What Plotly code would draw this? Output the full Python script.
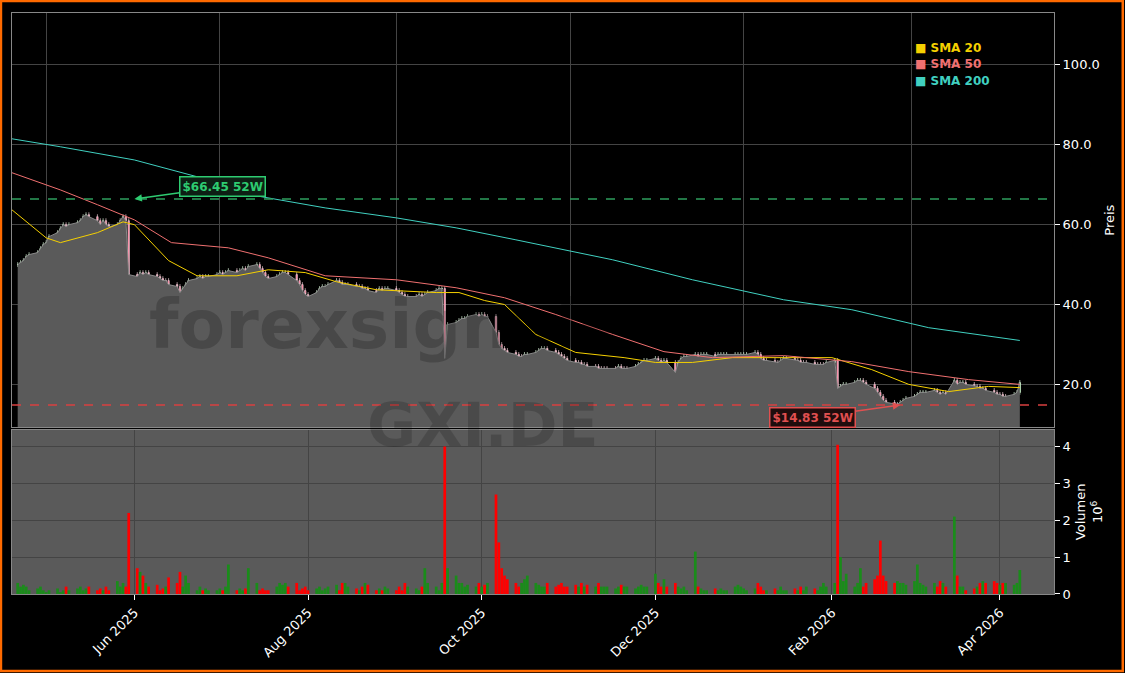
import numpy as np
import pandas as pd
import plotly.graph_objects as go
from plotly.subplots import make_subplots

close_weeks = [
    [50, 50.5, 51, 52],
    [52.5, 53, 54, 55, 55.5],
    [57, 58, 59, 60, 59.5],
    [60, 60.5, 61, 62, 62.5],
    [62, 61, 60, 61, 60],
    [59.5, 60, 61, 62, 61],
    [47.5, 47, 48, 47.5, 48],
    [47.5, 47, 46.5, 46, 46],
    [45, 44.5, 43, 44, 45],
    [46, 46.5, 47, 46.5, 47],
    [47, 47.5, 48, 47.5, 48],
    [48.5, 48, 48.5, 49, 48.5],
    [49.5, 50, 49, 48, 47],
    [46.5, 47, 47.5, 48, 48],
    [47.5, 46, 45, 43.5, 42.5],
    [42, 43, 44, 44.5, 44.5],
    [45, 46, 45.5, 45, 45],
    [45, 44.5, 44.5, 44, 44],
    [43.5, 43, 44, 43.5, 44],
    [44, 43.5, 43, 42.5, 42],
    [42, 42, 42.5, 42, 42.5],
    [43, 43.5, 44, 44, 26.5],
    [35, 35.5, 36, 36.5, 36.5],
    [37, 37.5, 37, 37.5, 37],
    [37, 33, 30, 29, 28.5],
    [28, 27.5, 27, 27, 27.5],
    [27.5, 28, 28.5, 29, 29],
    [28.5, 28, 27.5, 27, 26.5],
    [26, 25.5, 25.5, 25, 25],
    [24.5, 24.5, 24, 24, 24],
    [24, 24, 24.5, 24, 24],
    [24, 24.5, 25, 25.5, 26],
    [26, 26.5, 26, 25.5, 26],
    [25.5, 23, 25.5, 26.5, 27],
    [27, 27.5, 27, 27.5, 27.5],
    [27.5, 27, 27.5, 27.5, 27.5],
    [27.5, 27.5, 27.5, 27.5, 27.5],
    [27.5, 28, 27.5, 26.5, 26],
    [26, 25.5, 25.5, 26, 26.5],
    [26.5, 26, 26, 25.5, 25.5],
    [25.5, 25, 25, 25, 25],
    [25.5, 26, 19, 19.5, 20],
    [20, 20.5, 21, 21, 20.5],
    [20, 19, 18, 17, 16],
    [15.5, 15, 15, 15.5, 16],
    [16.5, 17, 17.5, 18, 18],
    [18, 18.5, 18, 17.5, 18],
    [17.5, 21, 20, 20.5, 20.5],
    [20, 19.5, 19.5, 19, 19],
    [18.5, 18, 17.5, 17.5, 17],
    [17, 17.5, 18, 20.5],
]

# Volumen in Mio. Stück
volume_weeks = [
    [0.3, 0.2, 0.25, 0.2],
    [0.1, 0.15, 0.2, 0.1, 0.05],
    [0.1, 0.15, 0.05, 0.1, 0.2],
    [0.1, 0.15, 0.2, 0.1, 0.15],
    [0.2, 0.1, 0.15, 0.1, 0.2],
    [0.1, 0.35, 0.2, 0.3, 0.2],
    [2.2, 0.7, 0.6, 0.5, 0.3],
    [0.2, 0.25, 0.1, 0.15, 0.2],
    [0.45, 0.3, 0.6, 0.2, 0.5],
    [0.3, 0.1, 0.2, 0.1, 0.15],
    [0.1, 0.1, 0.15, 0.1, 0.2],
    [0.8, 0.1, 0.15, 0.1, 0.15],
    [0.7, 0.3, 0.1, 0.15, 0.1],
    [0.1, 0.2, 0.3, 0.25, 0.3],
    [0.2, 0.3, 0.1, 0.15, 0.2],
    [0.1, 0.15, 0.2, 0.1, 0.15],
    [0.2, 0.25, 0.1, 0.3, 0.3],
    [0.2, 0.15, 0.1, 0.2, 0.3],
    [0.25, 0.1, 0.15, 0.1, 0.2],
    [0.15, 0.1, 0.2, 0.1, 0.3],
    [0.2, 0.15, 0.1, 0.2, 0.7],
    [0.3, 0.2, 0.1, 0.3, 4.0],
    [0.7, 0.5, 0.3, 0.3, 0.2],
    [0.25, 0.2, 0.3, 0.2, 0.25],
    [0.3, 2.7, 1.4, 0.7, 0.5],
    [0.4, 0.3, 0.2, 0.3, 0.4],
    [0.5, 0.3, 0.25, 0.2, 0.2],
    [0.3, 0.2, 0.25, 0.3, 0.2],
    [0.2, 0.25, 0.2, 0.3, 0.2],
    [0.25, 0.2, 0.3, 0.2, 0.2],
    [0.2, 0.15, 0.2, 0.25, 0.2],
    [0.2, 0.15, 0.2, 0.25, 0.2],
    [0.2, 0.55, 0.3, 0.2, 0.4],
    [0.2, 0.3, 0.2, 0.15, 0.2],
    [0.1, 1.15, 0.2, 0.15, 0.1],
    [0.1, 0.15, 0.1, 0.15, 0.1],
    [0.1, 0.2, 0.25, 0.2, 0.15],
    [0.1, 0.15, 0.3, 0.2, 0.1],
    [0.1, 0.15, 0.1, 0.2, 0.1],
    [0.1, 0.15, 0.1, 0.2, 0.1],
    [0.2, 0.15, 0.1, 0.2, 0.3],
    [0.2, 0.3, 4.05, 1.0, 0.35],
    [0.55, 0.2, 0.3, 0.7, 0.2],
    [0.3, 0.4, 0.5, 1.45, 0.5],
    [0.35, 0.3, 0.35, 0.3, 0.3],
    [0.25, 0.35, 0.8, 0.3, 0.25],
    [0.2, 0.3, 0.2, 0.35, 0.3],
    [0.2, 2.1, 0.5, 0.2, 0.2],
    [0.1, 0.15, 0.2, 0.3, 0.35],
    [0.3, 0.35, 0.3, 0.25, 0.3],
    [0.3, 0.25, 0.3, 0.65],
]

sma20_dates = ["2025-04-19", "2025-05-01", "2025-05-06", "2025-05-19", "2025-05-28", "2025-06-01",
               "2025-06-13", "2025-06-23", "2025-07-07", "2025-07-18", "2025-07-31", "2025-08-11",
               "2025-08-25", "2025-09-15", "2025-09-23", "2025-10-02", "2025-10-09", "2025-10-20",
               "2025-11-03", "2025-11-20", "2025-12-01", "2025-12-14", "2025-12-28", "2026-01-15",
               "2026-02-01", "2026-02-15", "2026-02-28", "2026-03-14", "2026-03-28", "2026-04-08"]
sma20_vals = [63.7, 56.7, 55.5, 58, 60.7, 60, 51, 47.2, 47.2, 48.7, 48, 45.7, 43.7, 43, 43,
              41, 40, 32.5, 28, 26.7, 25.5, 25.5, 26.7, 26.7, 26.7, 23.7, 20, 18.2, 19.5, 19.2]

sma50_dates = ["2025-04-19", "2025-05-06", "2025-05-19", "2025-06-01", "2025-06-14", "2025-07-04",
               "2025-07-18", "2025-08-07", "2025-09-01", "2025-09-22", "2025-10-09", "2025-10-27",
               "2025-11-16", "2025-12-04", "2025-12-21", "2026-01-15", "2026-02-08", "2026-02-28",
               "2026-03-21", "2026-04-08"]
sma50_vals = [73, 68.7, 65, 61.2, 55.5, 54.2, 51.7, 47.2, 46.2, 44.2, 41.7, 37.5, 32.5, 28.2,
              26.7, 27.2, 25.7, 23.2, 21.2, 20]

sma200_dates = ["2025-04-19", "2025-05-06", "2025-06-01", "2025-06-23", "2025-07-14", "2025-08-07",
                "2025-09-01", "2025-09-22", "2025-10-13", "2025-11-16", "2025-12-14", "2026-01-15",
                "2026-02-08", "2026-03-07", "2026-04-08"]
sma200_vals = [81.5, 79.5, 76.2, 72, 67.2, 64.2, 61.7, 59.2, 56.2, 51.2, 46.2, 41.2, 38.7, 34.2, 31]

high_52w, high_date = 66.45, "2025-06-01"
low_52w, low_date = 14.83, "2026-02-25"

closes = np.array([v for w in close_weeks for v in w])
volumes = np.array([v for w in volume_weeks for v in w])
dates = pd.bdate_range("2025-04-21", periods=len(closes))
opens = np.concatenate([[closes[0]], closes[:-1]])
highs = np.maximum(opens, closes) + 0.6
lows = np.minimum(opens, closes) - 0.6
vol_colors = np.where(closes < opens, "#ff0000", "#1a8c1a")

GREY = "#5a5a5a"
fig = make_subplots(rows=2, cols=1, shared_xaxes=True, vertical_spacing=0.004,
                    row_heights=[0.716, 0.284])

fig.add_trace(go.Scatter(x=dates, y=closes, mode="lines", line=dict(color="#888", width=1),
                         fill="tozeroy", fillcolor=GREY, showlegend=False), row=1, col=1)
fig.add_trace(go.Candlestick(x=dates, open=opens, high=highs, low=lows, close=closes,
                             increasing=dict(line=dict(color="#d8f5d8", width=0.7), fillcolor="#90ee90"),
                             decreasing=dict(line=dict(color="#f0d0d8", width=0.7), fillcolor="#ff6f91"),
                             whiskerwidth=0, showlegend=False), row=1, col=1)
fig.add_trace(go.Scatter(x=sma20_dates, y=sma20_vals, mode="lines", line=dict(color="#f5d000", width=1),
                         showlegend=False), row=1, col=1)
fig.add_trace(go.Scatter(x=sma50_dates, y=sma50_vals, mode="lines", line=dict(color="#f07070", width=1),
                         showlegend=False), row=1, col=1)
fig.add_trace(go.Scatter(x=sma200_dates, y=sma200_vals, mode="lines", line=dict(color="#40d0c0", width=1),
                         showlegend=False), row=1, col=1)
fig.add_trace(go.Bar(x=dates, y=volumes, marker=dict(color=vol_colors, line=dict(width=0)),
                     showlegend=False), row=2, col=1)

fig.add_hline(y=high_52w, line=dict(color="#2e9e5e", dash="dash", width=1.5), row=1, col=1)
fig.add_hline(y=low_52w, line=dict(color="#d94040", dash="dash", width=1.5), row=1, col=1)

fig.add_annotation(x=high_date, y=high_52w, ax=88, ay=-12, xref="x", yref="y",
                   text="<b>$66.45 52W</b>", font=dict(color="#2ecc71", size=12, family="DejaVu Sans"),
                   bgcolor="#0d1f14", bordercolor="#2ecc71", borderwidth=1.5, borderpad=2,
                   arrowcolor="#2ecc71", arrowhead=2, arrowwidth=1.5, xanchor="center")
fig.add_annotation(x=low_date, y=low_52w, ax=-88, ay=12, xref="x", yref="y",
                   text="<b>$14.83 52W</b>", font=dict(color="#e05050", size=12, family="DejaVu Sans"),
                   bgcolor="#1f0d0d", bordercolor="#e05050", borderwidth=1.5, borderpad=2,
                   arrowcolor="#e05050", arrowhead=2, arrowwidth=1.5, xanchor="center")

# Legende als Text
for i, (lbl, col) in enumerate([("SMA 20", "#f5d000"), ("SMA 50", "#f07070"), ("SMA 200", "#40d0c0")]):
    fig.add_annotation(xref="paper", yref="paper", x=0.865, y=0.955 - i * 0.028, xanchor="left",
                       text=f"<b>■ {lbl}</b>", showarrow=False,
                       font=dict(color=col, size=12, family="DejaVu Sans"))

# Wasserzeichen
fig.add_annotation(xref="paper", yref="paper", x=0.36, y=0.463, text="<b>forexsignale</b>", showarrow=False,
                   font=dict(color="rgba(0,0,0,0.2)", size=68, family="DejaVu Sans"))
fig.add_annotation(xref="paper", yref="paper", x=0.452, y=0.227, text="<b>GXI.DE</b>", showarrow=False,
                   font=dict(color="rgba(0,0,0,0.17)", size=60, family="DejaVu Sans"))

axis_font = dict(color="white", size=13, family="DejaVu Sans")
fig.update_xaxes(showgrid=True, gridcolor="#444", gridwidth=1, showline=True, linecolor="#888",
                 mirror=True, rangeslider=dict(visible=False), automargin=False,
                 range=["2025-04-19", "2026-04-20"], ticks="", zeroline=False)
fig.update_xaxes(row=2, col=1, tickformat="%b %Y", dtick="M2", tick0="2025-06-01", tickangle=-45,
                 tickfont=axis_font, ticks="outside", tickcolor="white", ticklen=5)
fig.update_yaxes(side="right", showgrid=True, gridcolor="#444", showline=True, linecolor="#888",
                 mirror=True, zeroline=False, tickfont=axis_font, ticks="outside", tickcolor="white",
                 automargin=False)
fig.update_yaxes(row=1, col=1, range=[9.25, 113], tickvals=[20, 40, 60, 80, 100], tickformat=".1f",
                 title=dict(text="Preis", font=axis_font, standoff=6))
fig.update_yaxes(row=2, col=1, range=[0, 4.46], tickvals=[0, 1, 2, 3, 4],
                 title=dict(text="Volumen<br>10<sup>6</sup>", font=axis_font, standoff=6))

fig.add_shape(type="rect", xref="x2 domain", yref="y2 domain", x0=0, x1=1, y0=0, y1=1,
              fillcolor=GREY, line=dict(width=0), layer="below")
fig.add_shape(type="rect", xref="paper", yref="paper", x0=-0.0106, x1=1.066, y0=-0.1325, y1=1.0207,
              line=dict(color="#ff6a00", width=2.5), layer="above")

fig.update_layout(width=1125, height=673, paper_bgcolor="black", plot_bgcolor="black",
                  margin=dict(l=12, r=71, t=13, b=79), bargap=0.05, showlegend=False,
                  font=dict(family="DejaVu Sans", color="white"))

fig.write_html("out.html", config={"displayModeBar": False},
               post_script="document.body.style.margin='0';document.body.style.background='black';")
